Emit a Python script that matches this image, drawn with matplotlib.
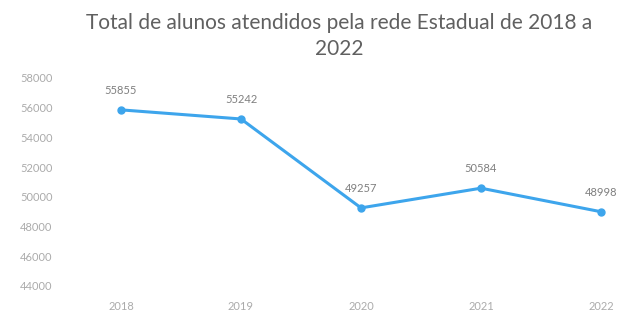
import matplotlib
matplotlib.use("Agg")
import matplotlib.pyplot as plt

years = ["2018", "2019", "2020", "2021", "2022"]
alunos = [55855, 55242, 49257, 50584, 48998]
yticks = [44000, 46000, 48000, 50000, 52000, 54000, 56000, 58000]
title = "Total de alunos atendidos pela rede Estadual de 2018 a\n2022"

FONT = "Lato"
W, H = 621, 316
fig = plt.figure(figsize=(W / 100, H / 100), dpi=100)
ax = fig.add_axes([61 / W, (H - 286) / H, (W - 61) / W, (286 - 78) / H])

x = list(range(len(years)))
ax.plot(x, alunos, color="#3da5ec", linewidth=2.2, marker="o", markersize=5,
        solid_capstyle="round")
for xi, v in zip(x, alunos):
    ax.annotate(str(v), (xi, v), xytext=(0, 10), textcoords="offset points",
                ha="center", va="bottom", fontsize=8, color="#7f7f7f",
                family=FONT)

ax.set_xlim(-0.5, (W - 121) / 120)
ax.set_ylim(44000, 58000)
ax.set_xticks(x)
ax.set_xticklabels(years)
ax.set_yticks(yticks)
ax.set_yticklabels([str(t) for t in yticks])
for s in ax.spines.values():
    s.set_visible(False)
ax.tick_params(length=0, labelsize=8, labelcolor="#ababab")
ax.tick_params(axis="x", pad=11)
ax.tick_params(axis="y", pad=6)
for lab in ax.get_xticklabels() + ax.get_yticklabels():
    lab.set_family(FONT)

fig.text(339 / W, 1 - 13 / H, title, ha="center", va="top", fontsize=15,
         color="#606060", family=FONT, linespacing=1.4)

fig.savefig("out.png", dpi=100, facecolor="white")
